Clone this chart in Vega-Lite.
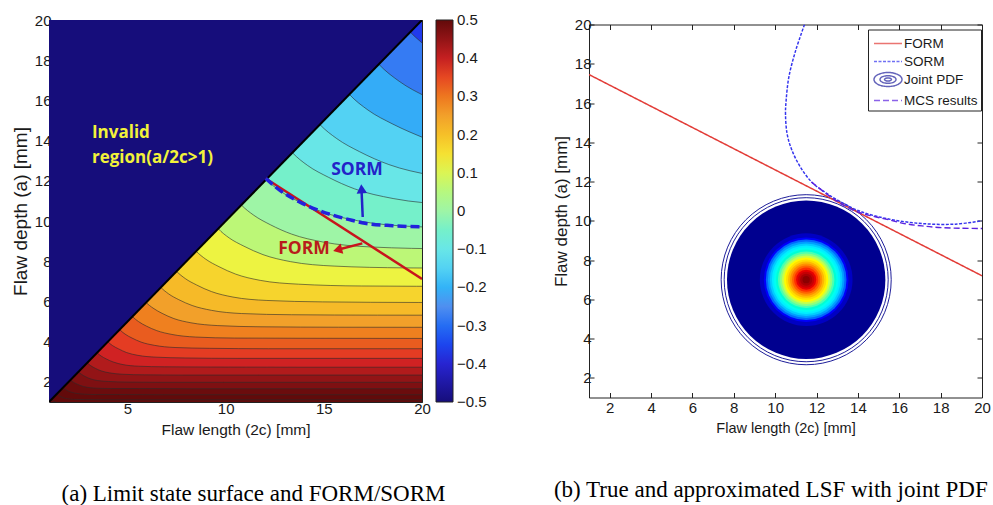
{
  "$schema": "https://vega.github.io/schema/vega-lite/v6.json",
  "background": "white",
  "padding": {"left": 10, "top": -5, "right": 0, "bottom": 0},
  "spacing": 63,
  "center": true,
  "datasets": {
    "contours": [
      {"k":-6,"v":-0.36,"x":1,"y":21.2},{"k":-6,"v":-0.36,"x":20,"y":21.2},
      {"k":-5,"v":-0.28,"x":1,"y":20.42},{"k":-5,"v":-0.28,"x":18.56,"y":20.42},{"k":-5,"v":-0.28,"x":19.4,"y":19.4},{"k":-5,"v":-0.28,"x":19.92,"y":18.93},{"k":-5,"v":-0.28,"x":20.53,"y":18.48},
      {"k":-4,"v":-0.21,"x":1,"y":18.74},{"k":-4,"v":-0.21,"x":17.03,"y":18.74},{"k":-4,"v":-0.21,"x":17.8,"y":17.8},{"k":-4,"v":-0.21,"x":18.84,"y":16.95},{"k":-4,"v":-0.21,"x":20.23,"y":16.18},
      {"k":-3,"v":-0.15,"x":1,"y":17.16},{"k":-3,"v":-0.15,"x":15.6,"y":17.16},{"k":-3,"v":-0.15,"x":16.3,"y":16.3},{"k":-3,"v":-0.15,"x":17.25,"y":15.52},{"k":-3,"v":-0.15,"x":18.52,"y":14.82},{"k":-3,"v":-0.15,"x":20.16,"y":14.11},
      {"k":-2,"v":-0.1,"x":1,"y":15.58},{"k":-2,"v":-0.1,"x":14.16,"y":15.58},{"k":-2,"v":-0.1,"x":14.8,"y":14.8},{"k":-2,"v":-0.1,"x":15.66,"y":14.1},{"k":-2,"v":-0.1,"x":16.82,"y":13.45},{"k":-2,"v":-0.1,"x":18.31,"y":12.81},{"k":-2,"v":-0.1,"x":20.47,"y":12.28},
      {"k":-1,"v":-0.05,"x":1,"y":14.1},{"k":-1,"v":-0.05,"x":12.82,"y":14.1},{"k":-1,"v":-0.05,"x":13.4,"y":13.4},{"k":-1,"v":-0.05,"x":14.18,"y":12.76},{"k":-1,"v":-0.05,"x":15.23,"y":12.18},{"k":-1,"v":-0.05,"x":16.57,"y":11.6},{"k":-1,"v":-0.05,"x":18.53,"y":11.12},{"k":-1,"v":-0.05,"x":21.61,"y":10.81},
      {"k":0,"v":0,"x":1,"y":12.7},{"k":0,"v":0,"x":11.55,"y":12.7},{"k":0,"v":0,"x":12.07,"y":12.07},{"k":0,"v":0,"x":12.77,"y":11.5},{"k":0,"v":0,"x":13.72,"y":10.97},{"k":0,"v":0,"x":14.93,"y":10.45},{"k":0,"v":0,"x":16.7,"y":10.02},{"k":0,"v":0,"x":19.47,"y":9.73},{"k":0,"v":0,"x":24.04,"y":9.62},
      {"k":1,"v":0.06,"x":1,"y":11.37},{"k":1,"v":0.06,"x":10.33,"y":11.37},{"k":1,"v":0.06,"x":10.8,"y":10.8},{"k":1,"v":0.06,"x":11.43,"y":10.29},{"k":1,"v":0.06,"x":12.27,"y":9.82},{"k":1,"v":0.06,"x":13.36,"y":9.35},{"k":1,"v":0.06,"x":14.94,"y":8.96},{"k":1,"v":0.06,"x":17.42,"y":8.71},{"k":1,"v":0.06,"x":21.51,"y":8.61},
      {"k":2,"v":0.12,"x":1,"y":10.13},{"k":2,"v":0.12,"x":9.21,"y":10.13},{"k":2,"v":0.12,"x":9.62,"y":9.62},{"k":2,"v":0.12,"x":10.18,"y":9.16},{"k":2,"v":0.12,"x":10.93,"y":8.75},{"k":2,"v":0.12,"x":11.9,"y":8.33},{"k":2,"v":0.12,"x":13.31,"y":7.98},{"k":2,"v":0.12,"x":15.52,"y":7.76},{"k":2,"v":0.12,"x":19.16,"y":7.67},{"k":2,"v":0.12,"x":25.45,"y":7.64},
      {"k":3,"v":0.17,"x":1,"y":8.95},{"k":3,"v":0.17,"x":8.13,"y":8.95},{"k":3,"v":0.17,"x":8.5,"y":8.5},{"k":3,"v":0.17,"x":8.99,"y":8.1},{"k":3,"v":0.17,"x":9.66,"y":7.73},{"k":3,"v":0.17,"x":10.51,"y":7.36},{"k":3,"v":0.17,"x":11.76,"y":7.05},{"k":3,"v":0.17,"x":13.71,"y":6.86},{"k":3,"v":0.17,"x":16.93,"y":6.77},{"k":3,"v":0.17,"x":22.49,"y":6.75},
      {"k":4,"v":0.21,"x":1,"y":7.89},{"k":4,"v":0.21,"x":7.18,"y":7.89},{"k":4,"v":0.21,"x":7.5,"y":7.5},{"k":4,"v":0.21,"x":7.94,"y":7.14},{"k":4,"v":0.21,"x":8.52,"y":6.82},{"k":4,"v":0.21,"x":9.28,"y":6.49},{"k":4,"v":0.21,"x":10.37,"y":6.22},{"k":4,"v":0.21,"x":12.1,"y":6.05},{"k":4,"v":0.21,"x":14.94,"y":5.98},{"k":4,"v":0.21,"x":19.84,"y":5.95},{"k":4,"v":0.21,"x":29.72,"y":5.94},
      {"k":5,"v":0.25,"x":1,"y":7.05},{"k":5,"v":0.25,"x":6.41,"y":7.05},{"k":5,"v":0.25,"x":6.7,"y":6.7},{"k":5,"v":0.25,"x":7.09,"y":6.38},{"k":5,"v":0.25,"x":7.61,"y":6.09},{"k":5,"v":0.25,"x":8.29,"y":5.8},{"k":5,"v":0.25,"x":9.27,"y":5.56},{"k":5,"v":0.25,"x":10.81,"y":5.4},{"k":5,"v":0.25,"x":13.35,"y":5.34},{"k":5,"v":0.25,"x":17.73,"y":5.32},{"k":5,"v":0.25,"x":26.55,"y":5.31},
      {"k":6,"v":0.29,"x":1,"y":6.26},{"k":6,"v":0.29,"x":5.69,"y":6.26},{"k":6,"v":0.29,"x":5.95,"y":5.95},{"k":6,"v":0.29,"x":6.3,"y":5.67},{"k":6,"v":0.29,"x":6.76,"y":5.41},{"k":6,"v":0.29,"x":7.36,"y":5.15},{"k":6,"v":0.29,"x":8.23,"y":4.94},{"k":6,"v":0.29,"x":9.6,"y":4.8},{"k":6,"v":0.29,"x":11.85,"y":4.74},{"k":6,"v":0.29,"x":15.74,"y":4.72},{"k":6,"v":0.29,"x":23.57,"y":4.71},
      {"k":7,"v":0.33,"x":1,"y":5.53},{"k":7,"v":0.33,"x":5.02,"y":5.53},{"k":7,"v":0.33,"x":5.25,"y":5.25},{"k":7,"v":0.33,"x":5.56,"y":5.0},{"k":7,"v":0.33,"x":5.97,"y":4.77},{"k":7,"v":0.33,"x":6.49,"y":4.55},{"k":7,"v":0.33,"x":7.26,"y":4.36},{"k":7,"v":0.33,"x":8.47,"y":4.23},{"k":7,"v":0.33,"x":10.46,"y":4.18},{"k":7,"v":0.33,"x":13.89,"y":4.17},{"k":7,"v":0.33,"x":20.8,"y":4.16},
      {"k":8,"v":0.36,"x":1,"y":4.84},{"k":8,"v":0.36,"x":4.4,"y":4.84},{"k":8,"v":0.36,"x":4.6,"y":4.6},{"k":8,"v":0.36,"x":4.87,"y":4.38},{"k":8,"v":0.36,"x":5.23,"y":4.18},{"k":8,"v":0.36,"x":5.69,"y":3.98},{"k":8,"v":0.36,"x":6.36,"y":3.82},{"k":8,"v":0.36,"x":7.42,"y":3.71},{"k":8,"v":0.36,"x":9.16,"y":3.67},{"k":8,"v":0.36,"x":12.17,"y":3.65},{"k":8,"v":0.36,"x":18.23,"y":3.65},{"k":8,"v":0.36,"x":21,"y":3.65},
      {"k":9,"v":0.39,"x":1,"y":4.21},{"k":9,"v":0.39,"x":3.83,"y":4.21},{"k":9,"v":0.39,"x":4.0,"y":4.0},{"k":9,"v":0.39,"x":4.23,"y":3.81},{"k":9,"v":0.39,"x":4.55,"y":3.64},{"k":9,"v":0.39,"x":4.95,"y":3.46},{"k":9,"v":0.39,"x":5.53,"y":3.32},{"k":9,"v":0.39,"x":6.45,"y":3.23},{"k":9,"v":0.39,"x":7.97,"y":3.19},{"k":9,"v":0.39,"x":10.58,"y":3.17},{"k":9,"v":0.39,"x":15.85,"y":3.17},{"k":9,"v":0.39,"x":21,"y":3.17},
      {"k":10,"v":0.42,"x":1,"y":3.63},{"k":10,"v":0.42,"x":3.3,"y":3.63},{"k":10,"v":0.42,"x":3.45,"y":3.45},{"k":10,"v":0.42,"x":3.65,"y":3.29},{"k":10,"v":0.42,"x":3.92,"y":3.14},{"k":10,"v":0.42,"x":4.27,"y":2.99},{"k":10,"v":0.42,"x":4.77,"y":2.86},{"k":10,"v":0.42,"x":5.56,"y":2.78},{"k":10,"v":0.42,"x":6.87,"y":2.75},{"k":10,"v":0.42,"x":9.13,"y":2.74},{"k":10,"v":0.42,"x":13.67,"y":2.73},{"k":10,"v":0.42,"x":21,"y":2.73},
      {"k":11,"v":0.45,"x":1,"y":3.11},{"k":11,"v":0.45,"x":2.82,"y":3.11},{"k":11,"v":0.45,"x":2.95,"y":2.95},{"k":11,"v":0.45,"x":3.12,"y":2.81},{"k":11,"v":0.45,"x":3.35,"y":2.68},{"k":11,"v":0.45,"x":3.65,"y":2.55},{"k":11,"v":0.45,"x":4.08,"y":2.45},{"k":11,"v":0.45,"x":4.76,"y":2.38},{"k":11,"v":0.45,"x":5.88,"y":2.35},{"k":11,"v":0.45,"x":7.8,"y":2.34},{"k":11,"v":0.45,"x":11.69,"y":2.34},{"k":11,"v":0.45,"x":21,"y":2.34},
      {"k":12,"v":0.47,"x":1,"y":2.63},{"k":12,"v":0.47,"x":2.39,"y":2.63},{"k":12,"v":0.47,"x":2.5,"y":2.5},{"k":12,"v":0.47,"x":2.65,"y":2.38},{"k":12,"v":0.47,"x":2.84,"y":2.27},{"k":12,"v":0.47,"x":3.09,"y":2.16},{"k":12,"v":0.47,"x":3.46,"y":2.07},{"k":12,"v":0.47,"x":4.03,"y":2.02},{"k":12,"v":0.47,"x":4.98,"y":1.99},{"k":12,"v":0.47,"x":6.61,"y":1.98},{"k":12,"v":0.47,"x":9.91,"y":1.98},{"k":12,"v":0.47,"x":21,"y":1.98},
      {"k":13,"v":0.49,"x":1,"y":2.21},{"k":13,"v":0.49,"x":2.01,"y":2.21},{"k":13,"v":0.49,"x":2.1,"y":2.1},{"k":13,"v":0.49,"x":2.22,"y":2.0},{"k":13,"v":0.49,"x":2.39,"y":1.91},{"k":13,"v":0.49,"x":2.6,"y":1.82},{"k":13,"v":0.49,"x":2.9,"y":1.74},{"k":13,"v":0.49,"x":3.39,"y":1.69},{"k":13,"v":0.49,"x":4.18,"y":1.67},{"k":13,"v":0.49,"x":5.56,"y":1.67},{"k":13,"v":0.49,"x":8.32,"y":1.66},{"k":13,"v":0.49,"x":21,"y":1.66},
      {"k":14,"v":0.5,"x":1,"y":1.81},{"k":14,"v":0.5,"x":1.65,"y":1.81},{"k":14,"v":0.5,"x":1.72,"y":1.72},{"k":14,"v":0.5,"x":1.82,"y":1.64},{"k":14,"v":0.5,"x":1.95,"y":1.56},{"k":14,"v":0.5,"x":2.13,"y":1.49},{"k":14,"v":0.5,"x":2.38,"y":1.43},{"k":14,"v":0.5,"x":2.77,"y":1.39},{"k":14,"v":0.5,"x":3.43,"y":1.37},{"k":14,"v":0.5,"x":4.55,"y":1.37},{"k":14,"v":0.5,"x":6.81,"y":1.36},{"k":14,"v":0.5,"x":21,"y":1.36},
      {"k":15,"v":0.52,"x":1,"y":1.47},{"k":15,"v":0.52,"x":1.34,"y":1.47},{"k":15,"v":0.52,"x":1.4,"y":1.4},{"k":15,"v":0.52,"x":1.48,"y":1.33},{"k":15,"v":0.52,"x":1.59,"y":1.27},{"k":15,"v":0.52,"x":1.73,"y":1.21},{"k":15,"v":0.52,"x":1.94,"y":1.16},{"k":15,"v":0.52,"x":2.26,"y":1.13},{"k":15,"v":0.52,"x":2.79,"y":1.12},{"k":15,"v":0.52,"x":3.7,"y":1.11},{"k":15,"v":0.52,"x":5.55,"y":1.11},{"k":15,"v":0.52,"x":21,"y":1.11},
      {"k":16,"v":0.55,"x":1,"y":1.18},{"k":16,"v":0.55,"x":1.07,"y":1.18},{"k":16,"v":0.55,"x":1.12,"y":1.12},{"k":16,"v":0.55,"x":1.19,"y":1.07},{"k":16,"v":0.55,"x":1.27,"y":1.02},{"k":16,"v":0.55,"x":1.39,"y":0.97},{"k":16,"v":0.55,"x":1.55,"y":0.93},{"k":16,"v":0.55,"x":1.81,"y":0.9},{"k":16,"v":0.55,"x":2.23,"y":0.89},{"k":16,"v":0.55,"x":2.96,"y":0.89},{"k":16,"v":0.55,"x":21,"y":0.89}
    ]
  },
  "hconcat": [
    {
      "width": 373,
      "height": 382,
      "title": {"text": "(a) Limit state surface and FORM/SORM", "orient": "bottom", "anchor": "middle", "font": "Liberation Serif", "fontSize": 23, "fontWeight": "normal", "color": "#000000", "offset": 45, "dx": 18},
      "resolve": {"axis": {"x": "independent", "y": "independent"}},
      "layer": [
        {
          "data": {"name": "contours"},
          "mark": {"type": "area", "interpolate": "monotone", "clip": true},
          "encoding": {
            "x": {"field": "x", "type": "quantitative", "scale": {"domain": [1, 20], "nice": false, "zero": false},
                  "axis": {"orient": "bottom", "values": [5, 10, 15, 20], "title": "Flaw length (2c) [mm]", "titleFontSize": 15.5, "labelFontSize": 15, "tickSize": -5, "labelPadding": 4, "titlePadding": 6}},
            "y": {"field": "y", "type": "quantitative", "stack": null, "scale": {"domain": [1, 20], "nice": false, "zero": false},
                  "axis": {"orient": "left", "values": [2, 4, 6, 8, 10, 12, 14, 16, 18, 20], "title": "Flaw depth (a) [mm]", "titleFontSize": 19, "labelFontSize": 15, "tickSize": -5, "labelPadding": 3, "titlePadding": 4}},
            "y2": {"datum": 1},
            "detail": {"field": "k", "type": "nominal"},
            "color": {"field": "v", "type": "quantitative",
                      "scale": {"domain": [-0.5, -0.375, -0.25, -0.125, 0, 0.125, 0.25, 0.375, 0.5], "range": ["#160d7b", "#2a2ae8", "#4f8ff0", "#6fe0f0", "#9ef5a6", "#f2f23c", "#f2a02a", "#e02626", "#620a0a"], "clamp": true},
                      "legend": {"orient": "none", "legendX": 387, "legendY": 0, "title": null, "direction": "vertical", "gradientLength": 382, "gradientThickness": 17, "values": [-0.5, -0.4, -0.3, -0.2, -0.1, 0, 0.1, 0.2, 0.3, 0.4, 0.5], "format": "~g", "labelFontSize": 15, "labelOffset": 4, "padding": 0, "gradientStrokeColor": "#222222", "gradientStrokeWidth": 1, "labelColor": "#1a1a1a", "labelOverlap": false, "labelBaseline": "middle", "labelFont": "Liberation Sans",
                                 "encode": {"labels": {"update": {"baseline": {"value": "middle"}}}},
                                 "encoding": {"labels": {"baseline": {"value": "middle"}}}}}
          }
        },
        {
          "data": {"name": "contours"},
          "mark": {"type": "line", "interpolate": "monotone", "clip": true, "stroke": "#2b2b2b", "strokeWidth": 0.7, "strokeOpacity": 0.85},
          "encoding": {
            "x": {"field": "x", "type": "quantitative", "scale": {"domain": [1, 20], "nice": false, "zero": false},
                  "axis": {"orient": "top", "values": [5, 10, 15, 20], "labels": false, "title": null, "tickSize": -5}},
            "y": {"field": "y", "type": "quantitative", "scale": {"domain": [1, 20], "nice": false, "zero": false},
                  "axis": {"orient": "right", "values": [2, 4, 6, 8, 10, 12, 14, 16, 18, 20], "labels": false, "title": null, "tickSize": -5}},
            "detail": {"field": "k", "type": "nominal"}
          }
        },
        {
          "data": {"values": [{"x": 1, "y": 1}, {"x": 20, "y": 20}]},
          "mark": {"type": "area", "color": "#160d7b", "clip": true},
          "encoding": {
            "x": {"field": "x", "type": "quantitative", "scale": {"domain": [1, 20], "nice": false, "zero": false}, "axis": null},
            "y": {"field": "y", "type": "quantitative", "scale": {"domain": [1, 20], "nice": false, "zero": false}, "axis": null},
            "y2": {"datum": 20}
          }
        },
        {
          "data": {"values": [{"x": 1, "y": 1}, {"x": 20, "y": 20}]},
          "mark": {"type": "line", "color": "#000000", "strokeWidth": 2, "clip": true},
          "encoding": {
            "x": {"field": "x", "type": "quantitative", "scale": {"domain": [1, 20], "nice": false, "zero": false}, "axis": null},
            "y": {"field": "y", "type": "quantitative", "scale": {"domain": [1, 20], "nice": false, "zero": false}, "axis": null}
          }
        },
        {
          "data": {"values": [{"x": 12.04, "y": 12.12}, {"x": 20, "y": 7.12}]},
          "mark": {"type": "line", "color": "#c8141c", "strokeWidth": 2.5, "clip": true},
          "encoding": {
            "x": {"field": "x", "type": "quantitative", "scale": {"domain": [1, 20], "nice": false, "zero": false}, "axis": null},
            "y": {"field": "y", "type": "quantitative", "scale": {"domain": [1, 20], "nice": false, "zero": false}, "axis": null}
          }
        },
        {
          "data": {"values": [{"x": 12.04, "y": 12.12}, {"x": 12.8, "y": 11.5}, {"x": 13.74, "y": 10.96}, {"x": 14.6, "y": 10.58}, {"x": 15.43, "y": 10.3}, {"x": 16.3, "y": 10.07}, {"x": 17.1, "y": 9.89}, {"x": 18.5, "y": 9.77}, {"x": 19.85, "y": 9.72}, {"x": 20, "y": 9.72}]},
          "mark": {"type": "line", "color": "#2222dd", "strokeWidth": 3.5, "strokeDash": [9, 4], "interpolate": "monotone", "clip": true},
          "encoding": {
            "x": {"field": "x", "type": "quantitative", "scale": {"domain": [1, 20], "nice": false, "zero": false}, "axis": null},
            "y": {"field": "y", "type": "quantitative", "scale": {"domain": [1, 20], "nice": false, "zero": false}, "axis": null}
          }
        },
        {
          "data": {"values": [{"x": 16.96, "y": 8.89, "x2": 15.65, "y2": 8.56}]},
          "mark": {"type": "rule", "color": "#c8141c", "strokeWidth": 2.5},
          "encoding": {
            "x": {"field": "x", "type": "quantitative", "scale": {"domain": [1, 20], "nice": false, "zero": false}, "axis": null},
            "y": {"field": "y", "type": "quantitative", "scale": {"domain": [1, 20], "nice": false, "zero": false}, "axis": null},
            "x2": {"field": "x2"},
            "y2": {"field": "y2"}
          }
        },
        {
          "data": {"values": [{"x": 15.7, "y": 8.57}]},
          "mark": {"type": "point", "shape": "triangle-left", "filled": true, "color": "#c8141c", "size": 110, "angle": -14, "opacity": 1},
          "encoding": {
            "x": {"field": "x", "type": "quantitative", "scale": {"domain": [1, 20], "nice": false, "zero": false}, "axis": null},
            "y": {"field": "y", "type": "quantitative", "scale": {"domain": [1, 20], "nice": false, "zero": false}, "axis": null}
          }
        },
        {
          "data": {"values": [{"x": 16.98, "y": 10.2, "x2": 16.92, "y2": 11.55}]},
          "mark": {"type": "rule", "color": "#2323c8", "strokeWidth": 2.5},
          "encoding": {
            "x": {"field": "x", "type": "quantitative", "scale": {"domain": [1, 20], "nice": false, "zero": false}, "axis": null},
            "y": {"field": "y", "type": "quantitative", "scale": {"domain": [1, 20], "nice": false, "zero": false}, "axis": null},
            "x2": {"field": "x2"},
            "y2": {"field": "y2"}
          }
        },
        {
          "data": {"values": [{"x": 16.92, "y": 11.6}]},
          "mark": {"type": "point", "shape": "triangle-up", "filled": true, "color": "#2323c8", "size": 110, "angle": -4, "opacity": 1},
          "encoding": {
            "x": {"field": "x", "type": "quantitative", "scale": {"domain": [1, 20], "nice": false, "zero": false}, "axis": null},
            "y": {"field": "y", "type": "quantitative", "scale": {"domain": [1, 20], "nice": false, "zero": false}, "axis": null}
          }
        },
        {
          "data": {"values": [{"x": 3.19, "y": 14.4, "label": ["Invalid", "region(a/2c>1)"]}]},
          "mark": {"type": "text", "font": "Open Sans", "fontWeight": "bold", "fontSize": 17, "color": "#f2f23a", "align": "left", "baseline": "middle", "lineHeight": 25},
          "encoding": {
            "x": {"field": "x", "type": "quantitative", "scale": {"domain": [1, 20], "nice": false, "zero": false}, "axis": null},
            "y": {"field": "y", "type": "quantitative", "scale": {"domain": [1, 20], "nice": false, "zero": false}, "axis": null},
            "text": {"field": "label"}
          }
        },
        {
          "data": {"values": [{"x": 16.69, "y": 12.56, "label": "SORM"}, {"x": 13.99, "y": 8.61, "label": "FORM"}]},
          "mark": {"type": "text", "font": "Open Sans", "fontWeight": "bold", "fontSize": 17.5, "align": "center", "baseline": "middle"},
          "encoding": {
            "x": {"field": "x", "type": "quantitative", "scale": {"domain": [1, 20], "nice": false, "zero": false}, "axis": null},
            "y": {"field": "y", "type": "quantitative", "scale": {"domain": [1, 20], "nice": false, "zero": false}, "axis": null},
            "text": {"field": "label"},
            "color": {"field": "label", "type": "nominal", "scale": {"domain": ["SORM", "FORM"], "range": ["#2323c8", "#b81c1c"]}, "legend": null}
          }
        }
      ]
    },
    {
      "title": {"text": "(b) True and approximated LSF with joint PDF", "orient": "bottom", "anchor": "middle", "font": "Liberation Serif", "fontSize": 23, "fontWeight": "normal", "color": "#000000", "offset": 43, "dx": -0.5},
      "vconcat": [
        {
          "width": 393,
          "height": 373,
          "title": {"text": " ", "fontSize": 6, "offset": 16},
          "resolve": {"axis": {"x": "independent", "y": "independent"}},
          "layer": [
            {
              "data": {"values": [{"x": 11.5, "y": 7.0, "r": 4.22}, {"x": 11.5, "y": 7.0, "r": 4.07}]},
              "mark": {"type": "point", "shape": "circle", "filled": false, "stroke": "#1e1e9a", "strokeWidth": 1, "opacity": 1},
              "encoding": {
                "x": {"field": "x", "type": "quantitative", "scale": {"domain": [1, 20], "nice": false, "zero": false},
                      "axis": {"orient": "bottom", "values": [2, 4, 6, 8, 10, 12, 14, 16, 18, 20], "title": "Flaw length (2c) [mm]", "titleFontSize": 14.5, "labelFontSize": 15, "tickSize": -5, "labelPadding": 8, "titlePadding": 6}},
                "y": {"field": "y", "type": "quantitative", "scale": {"domain": [1, 20], "nice": false, "zero": false},
                      "axis": {"orient": "left", "values": [2, 4, 6, 8, 10, 12, 14, 16, 18, 20], "title": "Flaw depth (a) [mm]", "titleFontSize": 17, "labelFontSize": 15, "tickSize": -5, "labelPadding": 3, "titlePadding": 4}},
                "size": {"field": "r", "type": "quantitative", "scale": {"type": "pow", "exponent": 2, "domain": [0, 5], "range": [0, 40602]}, "legend": null}
              }
            },
            {
              "data": {"values": [
                {"x": 11.5, "y": 7.0, "r": 3.93, "p": 0},
                {"x": 11.5, "y": 7.0, "r": 2.3, "p": 0.06},
                {"x": 11.5, "y": 7.0, "r": 2.1, "p": 0.12},
                {"x": 11.5, "y": 7.0, "r": 2.0, "p": 0.18},
                {"x": 11.5, "y": 7.0, "r": 1.9, "p": 0.24},
                {"x": 11.5, "y": 7.0, "r": 1.8, "p": 0.3},
                {"x": 11.5, "y": 7.0, "r": 1.7, "p": 0.35},
                {"x": 11.5, "y": 7.0, "r": 1.6, "p": 0.4},
                {"x": 11.5, "y": 7.0, "r": 1.5, "p": 0.44},
                {"x": 11.5, "y": 7.0, "r": 1.4, "p": 0.48},
                {"x": 11.5, "y": 7.0, "r": 1.3, "p": 0.53},
                {"x": 11.5, "y": 7.0, "r": 1.2, "p": 0.58},
                {"x": 11.5, "y": 7.0, "r": 1.1, "p": 0.63},
                {"x": 11.5, "y": 7.0, "r": 1.0, "p": 0.67},
                {"x": 11.5, "y": 7.0, "r": 0.9, "p": 0.72},
                {"x": 11.5, "y": 7.0, "r": 0.8, "p": 0.77},
                {"x": 11.5, "y": 7.0, "r": 0.7, "p": 0.82},
                {"x": 11.5, "y": 7.0, "r": 0.6, "p": 0.86},
                {"x": 11.5, "y": 7.0, "r": 0.5, "p": 0.9},
                {"x": 11.5, "y": 7.0, "r": 0.4, "p": 0.93},
                {"x": 11.5, "y": 7.0, "r": 0.3, "p": 0.96},
                {"x": 11.5, "y": 7.0, "r": 0.18, "p": 0.99}
              ]},
              "mark": {"type": "point", "shape": "circle", "filled": true, "opacity": 1, "strokeWidth": 0},
              "encoding": {
                "x": {"field": "x", "type": "quantitative", "scale": {"domain": [1, 20], "nice": false, "zero": false}, "axis": null},
                "y": {"field": "y", "type": "quantitative", "scale": {"domain": [1, 20], "nice": false, "zero": false}, "axis": null},
                "size": {"field": "r", "type": "quantitative", "scale": {"type": "pow", "exponent": 2, "domain": [0, 5], "range": [0, 40602]}, "legend": null},
                "fill": {"field": "p", "type": "quantitative", "scale": {"domain": [0, 0.125, 0.375, 0.625, 0.875, 1], "range": ["#00008f", "#0000ff", "#00ffff", "#ffff00", "#ff0000", "#800000"]}, "legend": null}
              }
            },
            {
              "data": {"values": [
                {"series": "FORM", "o": 1, "x": 1, "y": 17.45},
                {"series": "FORM", "o": 2, "x": 20, "y": 7.2},
                {"series": "SORM", "o": 1, "x": 11.42, "y": 20.0},
                {"series": "SORM", "o": 2, "x": 10.99, "y": 18.67},
                {"series": "SORM", "o": 3, "x": 10.66, "y": 17.31},
                {"series": "SORM", "o": 4, "x": 10.53, "y": 16.12},
                {"series": "SORM", "o": 5, "x": 10.5, "y": 15.44},
                {"series": "SORM", "o": 6, "x": 10.58, "y": 14.42},
                {"series": "SORM", "o": 7, "x": 10.82, "y": 13.57},
                {"series": "SORM", "o": 8, "x": 11.23, "y": 12.72},
                {"series": "SORM", "o": 9, "x": 11.79, "y": 11.95},
                {"series": "SORM", "o": 10, "x": 12.43, "y": 11.44},
                {"series": "SORM", "o": 11, "x": 13.08, "y": 11.02},
                {"series": "SORM", "o": 12, "x": 14.04, "y": 10.51},
                {"series": "SORM", "o": 13, "x": 15.49, "y": 10.09},
                {"series": "SORM", "o": 14, "x": 17.1, "y": 9.86},
                {"series": "SORM", "o": 15, "x": 18.71, "y": 9.83},
                {"series": "SORM", "o": 16, "x": 20.0, "y": 10.0},
                {"series": "MCS results", "o": 1, "x": 11.75, "y": 11.98},
                {"series": "MCS results", "o": 2, "x": 12.45, "y": 11.4},
                {"series": "MCS results", "o": 3, "x": 13.1, "y": 10.92},
                {"series": "MCS results", "o": 4, "x": 14.0, "y": 10.45},
                {"series": "MCS results", "o": 5, "x": 14.7, "y": 10.24},
                {"series": "MCS results", "o": 6, "x": 15.5, "y": 10.05},
                {"series": "MCS results", "o": 7, "x": 16.3, "y": 9.85},
                {"series": "MCS results", "o": 8, "x": 17.1, "y": 9.74},
                {"series": "MCS results", "o": 9, "x": 17.9, "y": 9.66},
                {"series": "MCS results", "o": 10, "x": 19.0, "y": 9.62},
                {"series": "MCS results", "o": 11, "x": 20.0, "y": 9.61}
              ]},
              "mark": {"type": "line", "interpolate": "catmull-rom", "clip": true},
              "encoding": {
                "x": {"field": "x", "type": "quantitative", "scale": {"domain": [1, 20], "nice": false, "zero": false},
                      "axis": {"orient": "top", "values": [2, 4, 6, 8, 10, 12, 14, 16, 18, 20], "labels": false, "title": null, "tickSize": -5}},
                "y": {"field": "y", "type": "quantitative", "scale": {"domain": [1, 20], "nice": false, "zero": false},
                      "axis": {"orient": "right", "values": [2, 4, 6, 8, 10, 12, 14, 16, 18, 20], "labels": false, "title": null, "tickSize": -5}},
                "order": {"field": "o", "type": "quantitative"},
                "stroke": {"field": "series", "type": "nominal", "scale": {"domain": ["FORM", "SORM", "Joint PDF", "MCS results"], "range": ["#e23b36", "#3434ee", "#22229e", "#5b22e0"]},
                           "legend": {"orient": "none", "legendX": 279, "legendY": 5, "title": null, "strokeColor": "#222222", "fillColor": "#ffffff", "padding": 3, "labelFontSize": 13.5, "labelOffset": 5, "symbolSize": 400, "rowPadding": 0, "symbolOffset": 6, "labelColor": "#1a1a1a", "labelFont": "Liberation Sans"}},
                "strokeDash": {"field": "series", "type": "nominal", "scale": {"domain": ["FORM", "SORM", "Joint PDF", "MCS results"], "range": [[1, 0], [3, 1.5], [1, 0], [6, 3]]},
                           "legend": {"orient": "none", "legendX": 279, "legendY": 5, "title": null, "strokeColor": "#222222", "fillColor": "#ffffff", "padding": 3, "labelFontSize": 13.5, "labelOffset": 5, "symbolSize": 400, "rowPadding": 0, "symbolOffset": 6, "labelColor": "#1a1a1a", "labelFont": "Liberation Sans"}},
                "strokeWidth": {"field": "series", "type": "nominal", "scale": {"domain": ["FORM", "SORM", "Joint PDF", "MCS results"], "range": [1.5, 1.4, 1.5, 3]},
                           "legend": {"orient": "none", "legendX": 279, "legendY": 5, "title": null, "strokeColor": "#222222", "fillColor": "#ffffff", "padding": 3, "labelFontSize": 13.5, "labelOffset": 5, "symbolSize": 400, "rowPadding": 0, "symbolOffset": 6, "labelColor": "#1a1a1a", "labelFont": "Liberation Sans"}}
              }
            },
            {
              "data": {"values": []},
              "mark": {"type": "point", "filled": false},
              "encoding": {
                "x": {"field": "x", "type": "quantitative", "scale": {"domain": [1, 20], "nice": false, "zero": false}, "axis": null},
                "y": {"field": "y", "type": "quantitative", "scale": {"domain": [1, 20], "nice": false, "zero": false}, "axis": null},
                "shape": {"field": "series", "type": "nominal", "scale": {"domain": ["FORM", "SORM", "Joint PDF", "MCS results"], "range": ["M-1.4,0H1.4", "M-1.4,0H1.4", "M-1.4,0A1.4,0.7,0,1,1,1.4,0A1.4,0.7,0,1,1,-1.4,0ZM-0.8,0A0.8,0.38,0,1,1,0.8,0A0.8,0.38,0,1,1,-0.8,0ZM-0.35,0A0.35,0.15,0,1,1,0.35,0A0.35,0.15,0,1,1,-0.35,0Z", "M-1.4,0H1.4"]},
                          "legend": {"orient": "none", "legendX": 279, "legendY": 5, "title": null, "strokeColor": "#222222", "fillColor": "#ffffff", "padding": 3, "labelFontSize": 13.5, "labelOffset": 5, "symbolSize": 400, "rowPadding": 0, "symbolOffset": 6, "labelColor": "#1a1a1a", "labelFont": "Liberation Sans"}}
              }
            }
          ]
        }
      ]
    }
  ],
  "resolve": {
    "scale": {"color": "independent", "fill": "independent", "stroke": "independent", "strokeDash": "independent", "strokeWidth": "independent", "size": "independent", "shape": "independent"},
    "legend": {"color": "independent", "fill": "independent", "stroke": "independent", "strokeDash": "independent", "strokeWidth": "independent", "size": "independent", "shape": "independent"}
  },
  "config": {
    "font": "Liberation Sans",
    "view": {"stroke": "#222222", "strokeWidth": 1},
    "axis": {"labelFont": "Liberation Sans", "titleFont": "Liberation Sans", "titleFontWeight": "normal", "labelColor": "#1a1a1a", "titleColor": "#1a1a1a", "tickColor": "#222222", "domain": false, "grid": false, "labelAngle": 0, "labelFlush": false},
    "legend": {"labelFont": "Liberation Sans"},
    "title": {"font": "Liberation Serif", "fontWeight": "normal"}
  }
}
